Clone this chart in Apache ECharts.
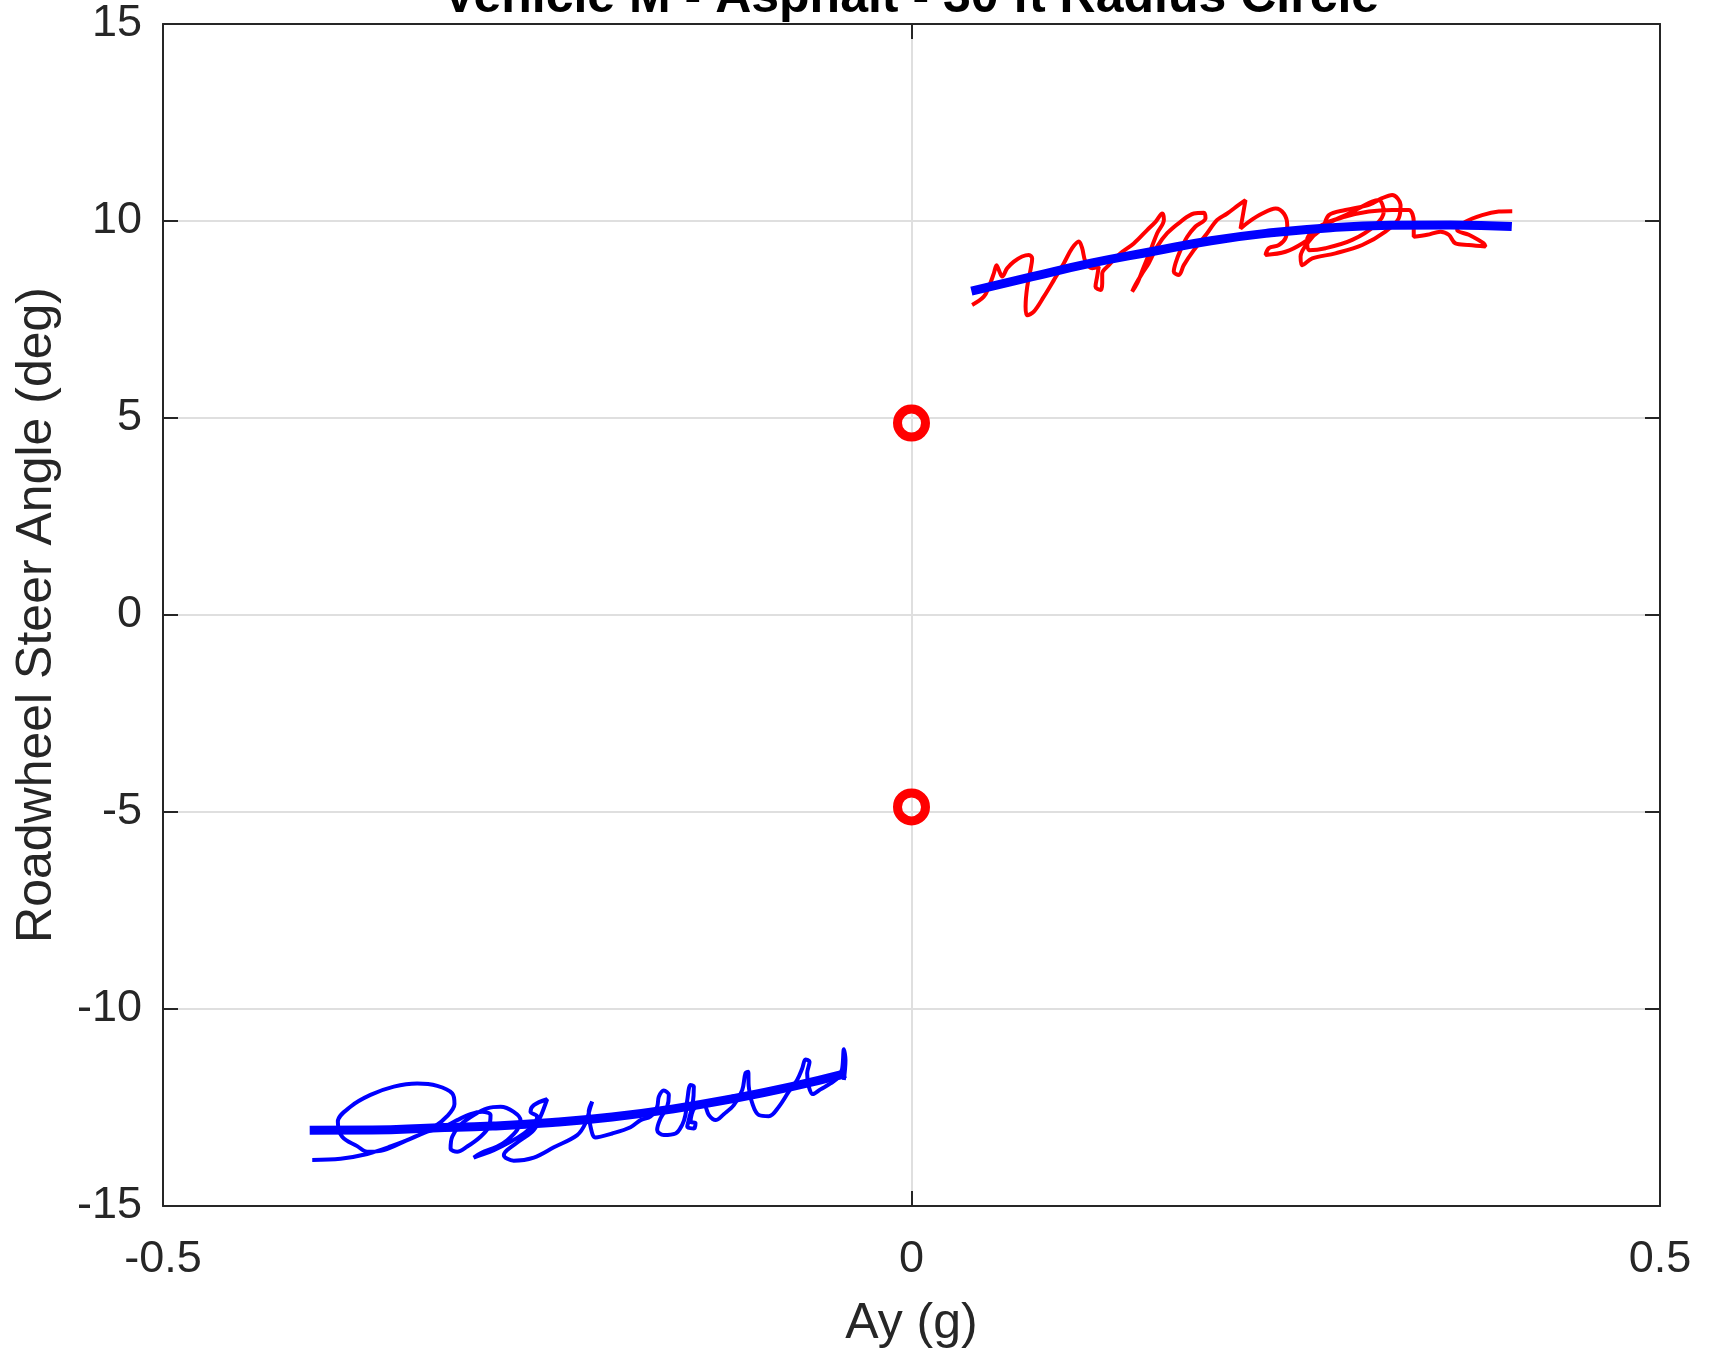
<!DOCTYPE html>
<html>
<head>
<meta charset="utf-8">
<title>Roadwheel Steer Angle vs Ay</title>
<script src="https://cdn.jsdelivr.net/npm/echarts@6/dist/echarts.min.js"></script>
<style>
  html, body { margin: 0; padding: 0; background: #ffffff; }
  #chart { width: 1709px; height: 1354px; }
</style>
</head>
<body>
<div id="chart"></div>
<script>
// Axis ticks
const xTicks = [-0.5, 0, 0.5];
const yTicks = [-15, -10, -5, 0, 5, 10, 15];

// Right-hand turn run: measured lateral acceleration (g) and roadwheel steer (deg)
const rightRunAy = [0.0405, 0.0483, 0.0517, 0.0550, 0.0568, 0.0583, 0.0606, 0.0639, 0.0684, 0.0739, 0.0784, 0.0806, 0.0795, 0.0773, 0.0762, 0.0773, 0.0817, 0.0884, 0.0951, 0.1018, 0.1073, 0.1118, 0.1140, 0.1162, 0.1207, 0.1251, 0.1240, 0.1229, 0.1263, 0.1274, 0.1274, 0.1318, 0.1396, 0.1485, 0.1574, 0.1630, 0.1675, 0.1686, 0.1641, 0.1597, 0.1552, 0.1508, 0.1474, 0.1496, 0.1541, 0.1585, 0.1641, 0.1708, 0.1797, 0.1886, 0.1953, 0.1964, 0.1897, 0.1842, 0.1797, 0.1764, 0.1752, 0.1786, 0.1819, 0.1886, 0.1975, 0.2042, 0.2109, 0.2186, 0.2231, 0.2198, 0.2253, 0.2343, 0.2432, 0.2487, 0.2510, 0.2498, 0.2454, 0.2387, 0.2365, 0.2498, 0.2610, 0.2743, 0.2788, 0.2899, 0.3055, 0.3144, 0.3211, 0.3267, 0.3255, 0.3166, 0.3011, 0.2832, 0.2677, 0.2610, 0.2599, 0.2654, 0.2766, 0.2921, 0.3077, 0.3122, 0.3155, 0.3100, 0.2944, 0.2766, 0.2654, 0.2643, 0.2743, 0.2899, 0.3055, 0.3211, 0.3322, 0.3355, 0.3355, 0.3445, 0.3534, 0.3589, 0.3634, 0.3723, 0.3834, 0.3823, 0.3723, 0.3645, 0.3701, 0.3812, 0.3923, 0.4013];
const rightRunSteer = [7.87, 8.08, 8.33, 8.67, 8.88, 8.76, 8.59, 8.80, 8.97, 9.10, 9.14, 9.05, 8.76, 8.33, 7.83, 7.61, 7.70, 8.08, 8.50, 8.93, 9.31, 9.48, 9.31, 8.97, 8.80, 8.84, 8.59, 8.33, 8.25, 8.42, 8.67, 8.88, 9.18, 9.43, 9.77, 9.98, 10.19, 10.03, 9.69, 9.26, 8.84, 8.42, 8.21, 8.38, 8.67, 8.93, 9.35, 9.69, 9.98, 10.19, 10.21, 10.07, 9.86, 9.60, 9.26, 8.93, 8.71, 8.63, 8.88, 9.26, 9.69, 10.03, 10.19, 10.41, 10.53, 9.81, 9.98, 10.19, 10.32, 10.19, 9.90, 9.56, 9.39, 9.31, 9.14, 9.22, 9.43, 9.81, 10.15, 10.28, 10.41, 10.58, 10.66, 10.41, 10.07, 9.73, 9.39, 9.18, 9.05, 8.88, 9.10, 9.48, 9.90, 10.19, 10.49, 10.53, 10.24, 9.90, 9.52, 9.31, 9.26, 9.52, 9.90, 10.11, 10.24, 10.28, 10.28, 9.98, 9.60, 9.65, 9.73, 9.65, 9.43, 9.39, 9.35, 9.43, 9.65, 9.77, 9.98, 10.15, 10.24, 10.25];

// Left-hand turn run
const leftRunAy = [-0.4003, -0.3814, -0.3636, -0.3480, -0.3325, -0.3191, -0.3102, -0.3053, -0.3068, -0.3168, -0.3302, -0.3458, -0.3614, -0.3748, -0.3832, -0.3803, -0.3703, -0.3636, -0.3525, -0.3369, -0.3235, -0.3124, -0.3035, -0.2946, -0.2868, -0.2812, -0.2824, -0.2879, -0.2968, -0.3035, -0.3079, -0.3068, -0.3013, -0.2924, -0.2834, -0.2745, -0.2657, -0.2612, -0.2634, -0.2701, -0.2768, -0.2879, -0.2924, -0.2879, -0.2790, -0.2679, -0.2590, -0.2523, -0.2500, -0.2545, -0.2523, -0.2434, -0.2478, -0.2523, -0.2612, -0.2701, -0.2723, -0.2657, -0.2523, -0.2389, -0.2233, -0.2178, -0.2144, -0.2133, -0.2156, -0.2144, -0.2111, -0.1999, -0.1877, -0.1810, -0.1743, -0.1699, -0.1688, -0.1655, -0.1621, -0.1632, -0.1677, -0.1699, -0.1655, -0.1576, -0.1532, -0.1510, -0.1498, -0.1476, -0.1454, -0.1461, -0.1488, -0.1498, -0.1454, -0.1443, -0.1476, -0.1443, -0.1387, -0.1354, -0.1309, -0.1254, -0.1187, -0.1131, -0.1109, -0.1091, -0.1087, -0.1064, -0.1020, -0.0953, -0.0886, -0.0820, -0.0764, -0.0730, -0.0708, -0.0681, -0.0697, -0.0686, -0.0659, -0.0608, -0.0541, -0.0486, -0.0463, -0.0452, -0.0441, -0.0452];
const leftRunSteer = [-13.83, -13.80, -13.68, -13.49, -13.26, -13.00, -12.72, -12.41, -12.14, -11.95, -11.89, -11.97, -12.18, -12.48, -12.86, -13.24, -13.48, -13.62, -13.58, -13.33, -13.11, -12.99, -12.82, -12.67, -12.61, -12.69, -12.99, -13.24, -13.49, -13.62, -13.54, -13.24, -12.94, -12.69, -12.52, -12.48, -12.61, -12.82, -13.07, -13.33, -13.49, -13.66, -13.77, -13.71, -13.58, -13.37, -13.16, -12.94, -12.73, -12.61, -12.44, -12.29, -12.73, -13.07, -13.33, -13.58, -13.71, -13.85, -13.77, -13.51, -13.20, -12.90, -12.48, -12.35, -12.61, -12.99, -13.26, -13.16, -13.00, -12.82, -12.73, -12.48, -12.23, -12.07, -12.18, -12.48, -12.78, -13.07, -13.20, -13.16, -12.94, -12.69, -12.31, -11.93, -11.97, -12.39, -12.82, -12.99, -13.03, -12.90, -12.86, -12.48, -12.44, -12.69, -12.82, -12.67, -12.44, -12.06, -11.63, -11.59, -11.97, -12.39, -12.69, -12.72, -12.48, -12.10, -11.80, -11.51, -11.28, -11.34, -11.63, -11.97, -12.16, -12.04, -11.89, -11.72, -11.51, -11.02, -11.30, -11.80];

// Fitted curves through each run
const rightFitAy = [0.040, 0.080, 0.120, 0.160, 0.200, 0.240, 0.280, 0.320, 0.360, 0.401];
const rightFitSteer = [8.22, 8.58, 8.93, 9.22, 9.50, 9.70, 9.83, 9.89, 9.90, 9.86];
const leftFitAy = [-0.402, -0.360, -0.320, -0.280, -0.240, -0.200, -0.160, -0.120, -0.080, -0.044];
const leftFitSteer = [-13.08, -13.07, -13.02, -12.97, -12.88, -12.74, -12.54, -12.28, -11.97, -11.64];

// Zero-g (kinematic) steer angles
const zeroAy = [0, 0];
const zeroSteer = [4.87, -4.87];

const zip = (xs, ys) => xs.map((x, i) => [x, ys[i]]);

const FONT = "'Liberation Sans', Arial, Helvetica, sans-serif";
const AXIS_COLOR = '#262626';
const GRID_COLOR = '#dfdfdf';

const chart = echarts.init(document.getElementById('chart'), null, { renderer: 'canvas' });

const baseX = {
  type: 'value', min: xTicks[0], max: xTicks[xTicks.length - 1], interval: 0.5,
  axisLine: { show: true, onZero: false, lineStyle: { color: AXIS_COLOR, width: 2 } },
  axisTick: { show: true, inside: true, length: 15, lineStyle: { color: AXIS_COLOR, width: 2 } }
};
const baseY = {
  type: 'value', min: yTicks[0], max: yTicks[yTicks.length - 1], interval: 5,
  axisLine: { show: true, onZero: false, lineStyle: { color: AXIS_COLOR, width: 2 } },
  axisTick: { show: true, inside: true, length: 15, lineStyle: { color: AXIS_COLOR, width: 2 } }
};

chart.setOption({
  animation: false,
  backgroundColor: '#ffffff',
  // Title sits above the plot box, centred on Ay = 0; its upper part runs off the canvas
  graphic: [{
    type: 'text', x: 911, y: -2, silent: true,
    style: {
      text: 'Vehicle M - Asphalt - 30 ft Radius Circle',
      align: 'center', verticalAlign: 'middle',
      fontFamily: FONT, fontSize: 50, fontWeight: 'bold', fill: '#000000'
    }
  }],
  grid: { left: 163, right: 49, top: 24, bottom: 148, containLabel: false },
  xAxis: [
    Object.assign({}, baseX, {
      position: 'bottom',
      name: 'Ay (g)', nameLocation: 'middle', nameGap: 93,
      nameTextStyle: { fontFamily: FONT, fontSize: 50, color: AXIS_COLOR },
      axisLabel: { show: true, margin: 31, fontFamily: FONT, fontSize: 45, color: AXIS_COLOR },
      splitLine: { show: true, lineStyle: { color: GRID_COLOR, width: 2 } }
    }),
    Object.assign({}, baseX, {
      position: 'top',
      axisLabel: { show: false },
      splitLine: { show: false }
    })
  ],
  yAxis: [
    Object.assign({}, baseY, {
      position: 'left',
      name: 'Roadwheel Steer Angle (deg)', nameLocation: 'middle', nameGap: 101,
      nameTextStyle: { fontFamily: FONT, fontSize: 50, color: AXIS_COLOR },
      axisLabel: { show: true, margin: 21, fontFamily: FONT, fontSize: 45, color: AXIS_COLOR },
      splitLine: { show: true, lineStyle: { color: GRID_COLOR, width: 2 } }
    }),
    Object.assign({}, baseY, {
      position: 'right',
      axisLabel: { show: false },
      splitLine: { show: false }
    })
  ],
  series: [
    {
      name: 'Right run', type: 'line', data: zip(rightRunAy, rightRunSteer),
      showSymbol: false, symbol: 'none', smooth: 0.35, clip: true,
      lineStyle: { color: '#ff0000', width: 4 }, z: 2
    },
    {
      name: 'Left run', type: 'line', data: zip(leftRunAy, leftRunSteer),
      showSymbol: false, symbol: 'none', smooth: 0.35, clip: true,
      lineStyle: { color: '#0000ff', width: 4 }, z: 2
    },
    {
      name: 'Right fit', type: 'line', data: zip(rightFitAy, rightFitSteer),
      showSymbol: false, symbol: 'none', smooth: true,
      lineStyle: { color: '#0000ff', width: 9 }, z: 3
    },
    {
      name: 'Left fit', type: 'line', data: zip(leftFitAy, leftFitSteer),
      showSymbol: false, symbol: 'none', smooth: true,
      lineStyle: { color: '#0000ff', width: 9 }, z: 3
    },
    {
      name: 'Zero-g steer', type: 'scatter', data: zip(zeroAy, zeroSteer),
      symbol: 'circle', symbolSize: 28,
      itemStyle: { color: 'rgba(0,0,0,0)', borderColor: '#ff0000', borderWidth: 9, opacity: 1 }, z: 4
    }
  ]
});
</script>
</body>
</html>
